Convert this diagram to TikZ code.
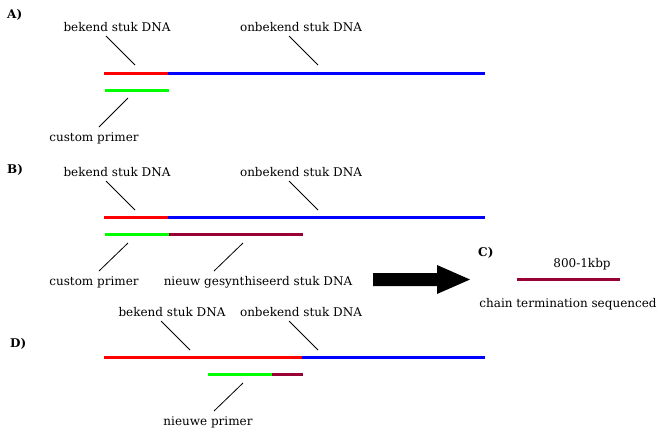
\documentclass[tikz,border=0pt]{standalone}
\usepackage{fontspec}
\setmainfont{DejaVu Serif}
\usepackage{tikz}
\usetikzlibrary{positioning}

\definecolor{dnared}{HTML}{FF0000}
\definecolor{dnablue}{HTML}{0000FF}
\definecolor{dnagreen}{HTML}{00FF00}
\definecolor{dnamaroon}{HTML}{990033}

\begin{document}
\begin{tikzpicture}[x=1pt, y=-1pt,
    every node/.style={inner sep=0pt, font=\fontsize{12}{14}\selectfont},
    tag/.style={anchor=base west, font=\fontsize{12}{14}\selectfont\bfseries},
    lbl/.style={anchor=base},
    strand/.style={line width=3pt},
    leader/.style={line width=0.8pt}]
    \useasboundingbox (0,0) rectangle (660,440);

    % A) known piece with custom primer
    \node[tag] (tagA) at (7,18) {A)};
    \node[lbl] (knownA) at (117,31.5) {bekend stuk DNA};
    \node[lbl] (unknownA) at (301,31.5) {onbekend stuk DNA};
    \node[lbl] (primerA) at (94,141) {custom primer};
    \coordinate (a1) at (104,73);
    \coordinate (a2) at (168,73);
    \coordinate (a3) at (485,73);
    \coordinate (p1) at (105,90);
    \coordinate (p2) at (169,90);
    \draw[strand, dnared] (a1) -- (a2);
    \draw[strand, dnablue] (a2) -- (a3);
    \draw[strand, dnagreen] (p1) -- (p2);
    \draw[leader] (106,36) -- (135,65);
    \draw[leader] (289,36) -- (318,65);
    \draw[leader] (128,98) -- (99,127);

    % B) primer extended
    \node[tag] (tagB) at (7,173) {B)};
    \node[lbl] (knownB) at (117,176) {bekend stuk DNA};
    \node[lbl] (unknownB) at (301,176) {onbekend stuk DNA};
    \node[lbl] (primerB) at (94,285) {custom primer};
    \node[lbl] (newB) at (258,285) {nieuw gesynthiseerd stuk DNA};
    \coordinate (b1) at (104,217);
    \coordinate (b2) at (168,217);
    \coordinate (b3) at (485,217);
    \coordinate (q1) at (105,234);
    \coordinate (q2) at (169,234);
    \coordinate (q3) at (303,234);
    \draw[strand, dnared] (b1) -- (b2);
    \draw[strand, dnablue] (b2) -- (b3);
    \draw[strand, dnagreen] (q1) -- (q2);
    \draw[strand, dnamaroon] (q2) -- (q3);
    \draw[leader] (106,181) -- (135,210);
    \draw[leader] (289,181) -- (318,210);
    \draw[leader] (128,243) -- (99,271);
    \draw[leader] (243,243) -- (214,271);

    % big arrow
    \fill (373,273) -- (437,273) -- (437,265) -- (470,279.5)
        -- (437,294) -- (437,286) -- (373,286) -- cycle;

    % C) sequenced piece
    \node[tag] (tagC) at (478,256) {C)};
    \node[lbl] (sizeC) at (582,267) {800-1kbp};
    \node[lbl] (seqC) at (568,307) {chain termination sequenced};
    \coordinate (c1) at (517,279);
    \coordinate (c2) at (620,279);
    \draw[strand, dnamaroon] (c1) -- (c2);

    % D) new primer
    \node[tag] (tagD) at (10,347) {D)};
    \node[lbl] (knownD) at (172,316) {bekend stuk DNA};
    \node[lbl] (unknownD) at (301,316) {onbekend stuk DNA};
    \node[lbl] (primerD) at (208,425.5) {nieuwe primer};
    \coordinate (d1) at (104,357);
    \coordinate (d2) at (302,357);
    \coordinate (d3) at (485,357);
    \coordinate (r1) at (208,374);
    \coordinate (r2) at (272,374);
    \coordinate (r3) at (303,374);
    \draw[strand, dnared] (d1) -- (d2);
    \draw[strand, dnablue] (d2) -- (d3);
    \draw[strand, dnagreen] (r1) -- (r2);
    \draw[strand, dnamaroon] (r2) -- (r3);
    \draw[leader] (161,321) -- (190,350);
    \draw[leader] (289,321) -- (318,350);
    \draw[leader] (243,383) -- (214,411);

\end{tikzpicture}
\end{document}
